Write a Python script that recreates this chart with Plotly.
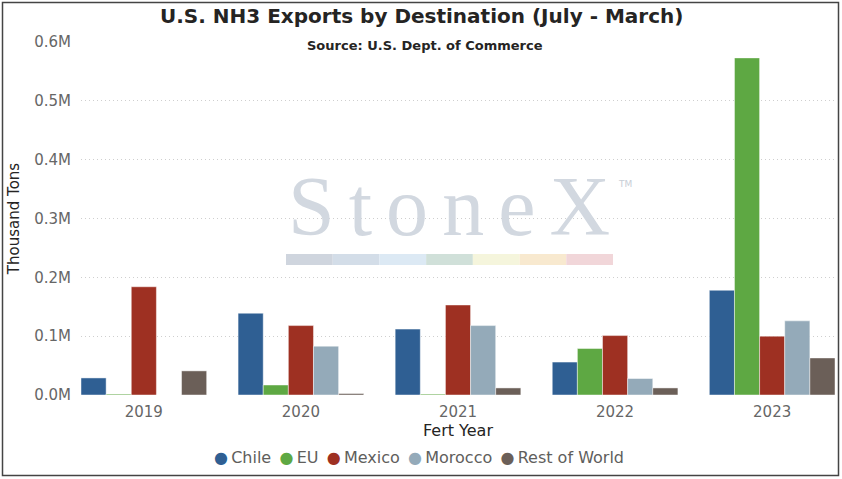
import plotly.graph_objects as go

years = ["2019", "2020", "2021", "2022", "2023"]
chile = [29000, 139000, 112000, 56000, 178000]
eu = [1500, 17000, 1500, 79000, 573000]
mexico = [184000, 118000, 153000, 101000, 100000]
morocco = [0, 83000, 118000, 28000, 126000]
rest_of_world = [41000, 2500, 12000, 12000, 63000]

series_names = ["Chile", "EU", "Mexico", "Morocco", "Rest of World"]
series_values = [chile, eu, mexico, morocco, rest_of_world]
series_colors = ["#2f5f93", "#5ea843", "#9e3022", "#94aab9", "#6b5f58"]

tick_vals = [0, 100000, 200000, 300000, 400000, 500000, 600000]
tick_text = ["0.0M", "0.1M", "0.2M", "0.3M", "0.4M", "0.5M", "0.6M"]

stripe_colors = ["#cfd5de", "#d3dde8", "#dce9f4", "#d0e0d9", "#f5f5dc", "#f8e9cf", "#f1d6d9"]

W, H = 842, 479
L, R, T, B = 81, 7, 42, 84
pw, ph = W - L - R, H - T - B


def px(x):
    return (x - L) / pw


def py(y):
    return (H - B - y) / ph


fig = go.Figure()
for name, vals, col in zip(series_names, series_values, series_colors):
    fig.add_trace(go.Bar(
        x=years, y=vals, name=name, marker_color=col,
        marker_line=dict(color="rgba(255,255,255,0.45)", width=1),
        showlegend=False,
    ))

shapes = []
# outer border
shapes.append(dict(type="rect", xref="paper", yref="paper",
                   x0=px(2.5), x1=px(838.5), y0=py(475.5), y1=py(2.5),
                   line=dict(color="#444444", width=1.5), layer="above"))
# watermark stripe
sx0, sx1 = 286, 613
seg = (sx1 - sx0) / len(stripe_colors)
for i, c in enumerate(stripe_colors):
    shapes.append(dict(type="rect", xref="paper", yref="paper",
                       x0=px(sx0 + i * seg), x1=px(sx0 + (i + 1) * seg),
                       y0=py(265), y1=py(254), fillcolor=c,
                       line=dict(width=0), layer="below"))

legend_text = "\u00a0\u2009".join(
    f"<span style='color:{c}'>\u25cf</span>\u2009{n}"
    for n, c in zip(series_names, series_colors)
)

hs = "\u200a\u200a"
annotations = [
    dict(text="<b>U.S. NH3 Exports by Destination (July - March)</b>",
         xref="paper", yref="paper", x=px(421), y=py(16), showarrow=False,
         font=dict(family="DejaVu Sans", size=20, color="#252423"),
         xanchor="center", yanchor="middle"),
    dict(text="<b>Source: U.S. Dept. of Commerce</b>",
         xref="paper", yref="paper", x=px(425), y=py(45), showarrow=False,
         font=dict(family="DejaVu Sans", size=13, color="#252423"),
         xanchor="center", yanchor="middle"),
    dict(text=hs.join("StoneX"),
         xref="paper", yref="paper", x=px(449), y=py(206), showarrow=False,
         font=dict(family="Liberation Serif", size=84, color="#d2d8e0"),
         xanchor="center", yanchor="middle"),
    dict(text="TM",
         xref="paper", yref="paper", x=px(625), y=py(184), showarrow=False,
         font=dict(family="DejaVu Sans", size=9, color="#c8ced6"),
         xanchor="center", yanchor="middle"),
    dict(text=legend_text,
         xref="paper", yref="paper", x=px(419), y=py(457), showarrow=False,
         font=dict(family="DejaVu Sans", size=16, color="#605e5c"),
         xanchor="center", yanchor="middle"),
]

fig.update_layout(
    width=W, height=H,
    margin=dict(l=L, r=R, t=T, b=B),
    paper_bgcolor="white", plot_bgcolor="white",
    barmode="group", bargap=0.2, bargroupgap=0,
    font=dict(family="DejaVu Sans", color="#605e5c"),
    showlegend=False,
    xaxis=dict(range=[-0.4, 4.4], showgrid=False, showline=False, ticks="",
               tickfont=dict(size=15, color="#666666"), ticklabelstandoff=6,
               title=dict(text="Fert Year", font=dict(size=16, color="#252423"), standoff=3)),
    yaxis=dict(range=[0, 600000], tickvals=tick_vals, ticktext=tick_text,
               showgrid=True, gridcolor="#cfcfcf", griddash="1px,3px", gridwidth=1,
               zeroline=False, showline=False, ticks="",
               tickfont=dict(size=15, color="#666666"), ticklabelstandoff=9,
               title=dict(text="Thousand Tons", font=dict(size=15, color="#252423"), standoff=10)),
    shapes=shapes,
    annotations=annotations,
)

fig.write_html("out.html", config={"displayModeBar": False},
               post_script="document.body.style.margin='0px';")
